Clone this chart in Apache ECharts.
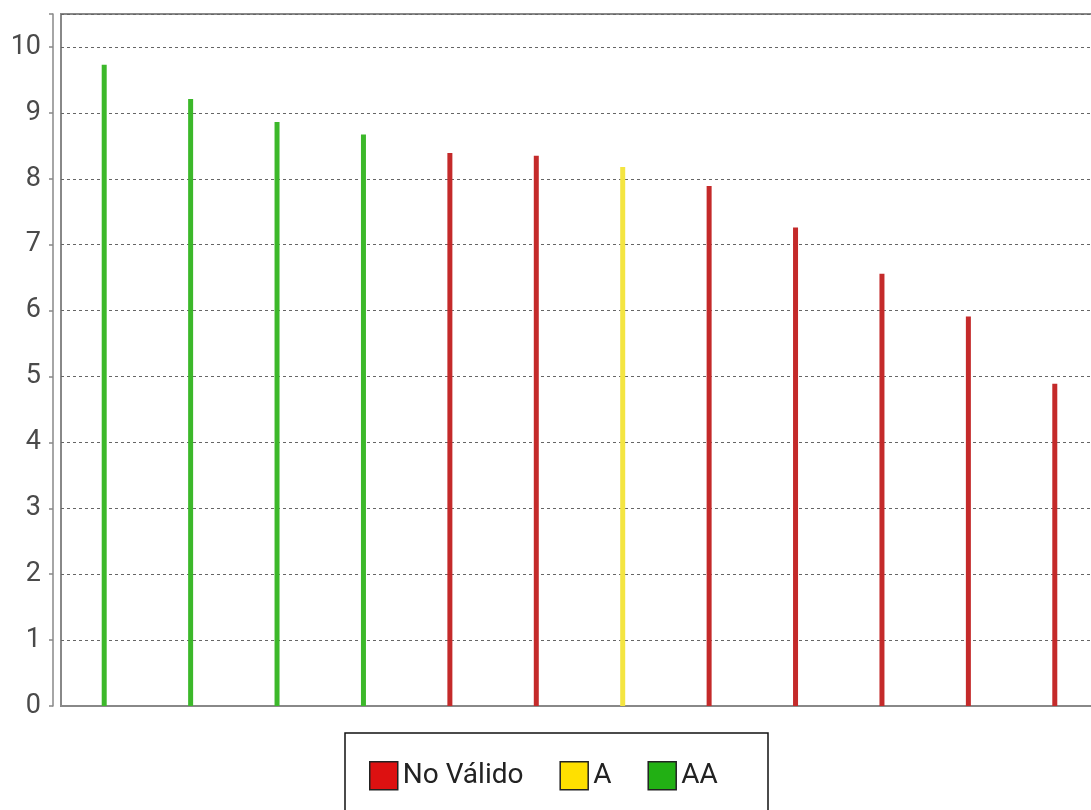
<!DOCTYPE html>
<html>
<head>
<meta charset="utf-8">
<script src="https://cdn.jsdelivr.net/npm/echarts@6/dist/echarts.min.js"></script>
<style>
html,body{margin:0;padding:0;background:#fff;}
#chart{width:1091px;height:810px;}
</style>
</head>
<body>
<div id="chart"></div>
<script>
var categories = ['E1','E2','E3','E4','E5','E6','E7','E8','E9','E10','E11','E12'];
var values = [9.73, 9.21, 8.86, 8.67, 8.39, 8.35, 8.18, 7.89, 7.26, 6.56, 5.91, 4.89];
var grades = ['AA','AA','AA','AA','No Válido','No Válido','A','No Válido','No Válido','No Válido','No Válido','No Válido'];
var gradeNames = ['No Válido', 'A', 'AA'];
var barColors = ['#c42a2a', '#f4e541', '#3cb82a'];
var legendColors = ['#dd1111', '#ffe000', '#22b014'];

var chart = echarts.init(document.getElementById('chart'), null, {renderer: 'canvas'});

var series = gradeNames.map(function (g, gi) {
  return {
    name: g,
    type: 'bar',
    stack: 'all',
    barWidth: 5,
    itemStyle: {color: barColors[gi]},
    data: values.map(function (v, i) { return grades[i] === g ? v : '-'; })
  };
});

chart.setOption({
  animation: false,
  textStyle: {fontFamily: 'Roboto'},
  grid: {
    left: 61, top: 14, right: -7, bottom: 104,
    outerBoundsMode: 'none',
    containLabel: false,
    show: true, borderColor: '#888', borderWidth: 2, backgroundColor: '#fff'
  },
  graphic: [{
    type: 'rect',
    shape: {x: 345, y: 733, width: 423, height: 120},
    style: {fill: '#fff', stroke: '#111', lineWidth: 1.5},
    z: 1
  }],
  legend: {
    left: 369, top: 761,
    itemWidth: 28, itemHeight: 28, itemGap: 36,
    padding: 0,
    icon: 'rect',
    z: 10,
    textStyle: {fontSize: 28, color: '#222', fontFamily: 'Roboto'},
    itemStyle: {borderColor: '#222', borderWidth: 1.5},
    data: gradeNames.map(function (g, gi) {
      return {name: g, itemStyle: {color: legendColors[gi], borderColor: '#222', borderWidth: 1.5}};
    })
  },
  xAxis: {
    type: 'category',
    data: categories,
    axisLine: {show: true, lineStyle: {color: '#888', width: 2}},
    axisTick: {show: false},
    axisLabel: {show: false},
    splitLine: {show: false}
  },
  yAxis: {
    type: 'value',
    min: 0, max: 10.5, interval: 1,
    offset: 8,
    axisLine: {show: true, lineStyle: {color: '#888', width: 1.5}},
    axisTick: {show: true, length: 4, lineStyle: {color: '#888', width: 1.5}},
    axisLabel: {
      fontSize: 27, color: '#4a4a4a', margin: 12, fontFamily: 'Roboto',
      formatter: function (v) { return Number.isInteger(v) ? String(v) : ''; }
    },
    splitLine: {show: true, lineStyle: {color: '#666', width: 1, type: [3, 3]}}
  },
  series: series
});
</script>
</body>
</html>
